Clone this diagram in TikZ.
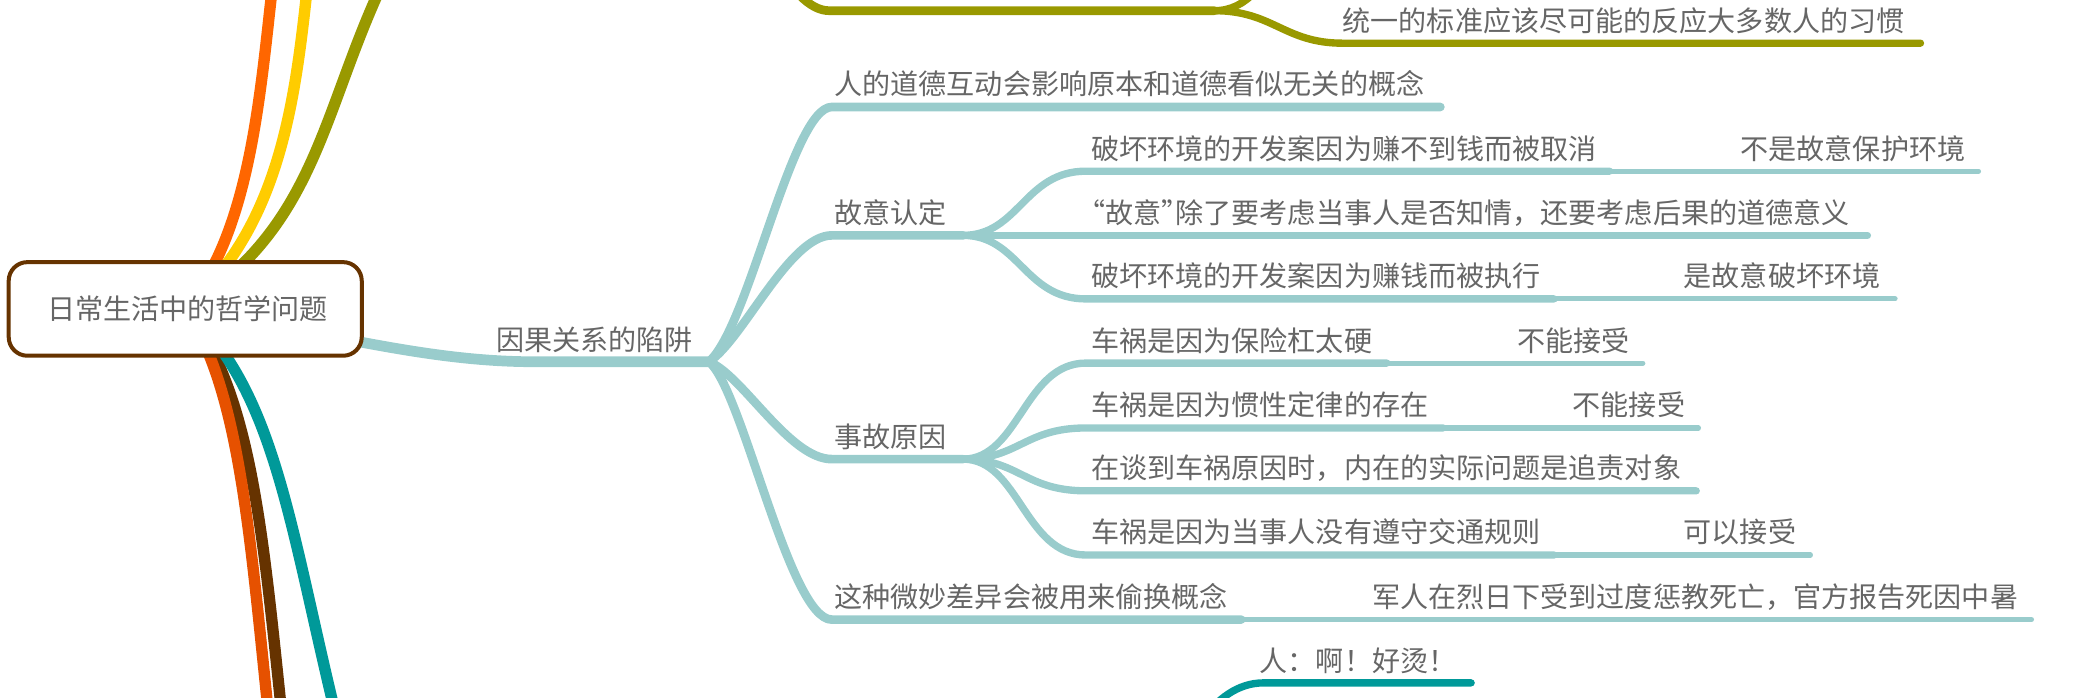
\documentclass[tikz,border=0pt]{standalone}
\usepackage{fontspec}
\newfontfamily\cjk{Noto Sans CJK SC}
\definecolor{cOrange}{HTML}{FF6600}
\definecolor{cYellow}{HTML}{FFCC00}
\definecolor{cOlive}{HTML}{999900}
\definecolor{cRed}{HTML}{E65100}
\definecolor{cBrown}{HTML}{663300}
\definecolor{cTeal}{HTML}{009999}
\definecolor{cLight}{HTML}{99CCCC}
\definecolor{cText}{HTML}{666666}
\tikzset{
  br/.style={line width=#1, line cap=round, line join=round},
  lbl/.style={anchor=base west, inner sep=0pt, outer sep=0pt, text=cText, font=\cjk\fontsize{21}{25}\selectfont},
  rootbox/.style={draw=cBrown, line width=3pt, fill=white, rounded corners=14pt,
    minimum width=264pt, minimum height=70pt, inner sep=0pt, text=cText,
    font=\cjk\fontsize{21}{25}\selectfont, text height=17.6pt, text depth=1.5pt},
}
\begin{document}
\begin{tikzpicture}[x=1pt,y=-1pt]
\useasboundingbox (0,0) rectangle (1568,521.2);

% ---- root branches ----
\coordinate (rc) at (138.5,231);
\coordinate (bOr) at (206,-30);
\coordinate (bYe) at (232,-30);
\coordinate (bOl) at (300,-40);
\coordinate (bRe) at (208,600);
\coordinate (bBr) at (218,600);
\coordinate (bTe) at (268,600);
\draw[br=8.5pt, cOrange] (rc) .. controls (190,170) and (195,60) .. (bOr);
\draw[br=8.5pt, cYellow] (rc) .. controls (215,165) and (222,60) .. (bYe);
\draw[br=8.5pt, cOlive] (rc) .. controls (245,165) and (240,70) .. (bOl);
\draw[br=8.5pt, cBrown] (rc) .. controls (195,300) and (198,430) .. (bBr);
\draw[br=8.5pt, cRed] (rc) .. controls (185,300) and (188,430) .. (bRe);
\draw[br=8.5pt, cTeal] (rc) .. controls (215,300) and (218,420) .. (bTe);

% ---- olive subtree (top, cut) ----
\coordinate (oA) at (540,-90);
\coordinate (oS) at (620,8);
\coordinate (oE) at (908,8);
\draw[br=6.5pt,cOlive] (oA) .. controls (565,-60) and (590,8) .. (oS) -- (oE);
\coordinate (oU) at (1000,-80);
\draw[br=5.5pt,cOlive] (oE) .. controls (958,8) and (962,-80) .. (oU);
\coordinate (oD) at (1004,32.3);
\coordinate (oDe) at (1436,32.3);
\draw[br=5.5pt,cOlive] (oE) .. controls (952,8) and (960,32.3) .. (oD) -- (oDe);
\node[lbl] (o1) at (1004,23.5) {统一的标准应该尽可能的反应大多数人的习惯};

% ---- main light-teal branch ----
\coordinate (m0) at (400,270.5);
\coordinate (h0) at (530,270.5);
\draw[br=8pt, cLight] (rc) .. controls (250,250) and (320,270.5) .. (m0) -- (h0);
\node[lbl] (n0) at (371,262) {因果关系的陷阱};

% level 1
\coordinate (s1) at (622,80);   \coordinate (e1) at (1077,80);
\coordinate (s2) at (622,176);  \coordinate (e2) at (720,176);
\coordinate (s3) at (622,343.3);\coordinate (e3) at (720,343.3);
\coordinate (s4) at (622,463.3);\coordinate (e4) at (928,463.3);
\draw[br=6.5pt,cLight] (h0) .. controls (560,245) and (592,80) .. (s1) -- (e1);
\draw[br=6.5pt,cLight] (h0) .. controls (555,255) and (590,176) .. (s2) -- (e2);
\draw[br=6.5pt,cLight] (h0) .. controls (555,280) and (590,343.3) .. (s3) -- (e3);
\draw[br=6.5pt,cLight] (h0) .. controls (555,290) and (590,463.3) .. (s4) -- (e4);
\node[lbl] (n1) at (624,71) {人的道德互动会影响原本和道德看似无关的概念};
\node[lbl] (n2) at (624,167) {故意认定};
\node[lbl] (n3) at (624,334.3) {事故原因};
\node[lbl] (n4) at (624,454.3) {这种微妙差异会被用来偷换概念};
\coordinate (f4) at (1519,463.3);
\draw[br=3.8pt,cLight] (e4) -- (f4);
\node[lbl] (m4) at (1026,454.3) {军人在烈日下受到过度惩教死亡，官方报告死因中暑};

% level 2 under 故意认定
\coordinate (s21) at (812,128);   \coordinate (e21) at (1203.5,128);
\coordinate (s22) at (812,176);   \coordinate (e22) at (1396.3,176);
\coordinate (s23) at (812,223.5); \coordinate (e23) at (1162,223.5);
\draw[br=5.5pt,cLight] (e2) .. controls (762,176) and (766,128) .. (s21) -- (e21);
\draw[br=5.5pt,cLight] (e2) -- (s22) -- (e22);
\draw[br=5.5pt,cLight] (e2) .. controls (762,176) and (766,223.5) .. (s23) -- (e23);
\node[lbl] (n21) at (816,119) {破坏环境的开发案因为赚不到钱而被取消};
\node[lbl] (n22) at (816,167) {\makebox[10.5pt][r]{“}故意\makebox[10.5pt][l]{”}除了要考虑当事人是否知情，还要考虑后果的道德意义};
\node[lbl] (n23) at (816,214.5) {破坏环境的开发案因为赚钱而被执行};
\coordinate (f21) at (1479.4,128);
\coordinate (f23) at (1417,223.5);
\draw[br=3.8pt,cLight] (e21) -- (f21);
\draw[br=3.8pt,cLight] (e23) -- (f23);
\node[lbl] (m21) at (1301.5,119) {不是故意保护环境};
\node[lbl] (m23) at (1259,214.5) {是故意破坏环境};

% level 2 under 事故原因
\coordinate (s31) at (812,271.5); \coordinate (e31) at (1037,271.5);
\coordinate (s32) at (812,320);   \coordinate (e32) at (1079,320);
\coordinate (s33) at (812,367);   \coordinate (e33) at (1268.3,367);
\coordinate (s34) at (812,415);   \coordinate (e34) at (1162,415);
\draw[br=5.5pt,cLight] (e3) .. controls (762,343.3) and (766,271.5) .. (s31) -- (e31);
\draw[br=5.5pt,cLight] (e3) .. controls (762,343.3) and (766,320) .. (s32) -- (e32);
\draw[br=5.5pt,cLight] (e3) .. controls (762,343.3) and (766,367) .. (s33) -- (e33);
\draw[br=5.5pt,cLight] (e3) .. controls (762,343.3) and (766,415) .. (s34) -- (e34);
\node[lbl] (n31) at (816,262.5) {车祸是因为保险杠太硬};
\node[lbl] (n32) at (816,311) {车祸是因为惯性定律的存在};
\node[lbl] (n33) at (816,358) {在谈到车祸原因时，内在的实际问题是追责对象};
\node[lbl] (n34) at (816,406) {车祸是因为当事人没有遵守交通规则};
\coordinate (f31) at (1228.4,271.5);
\coordinate (f32) at (1270,320);
\coordinate (f34) at (1353.7,415);
\draw[br=3.8pt,cLight] (e31) -- (f31);
\draw[br=3.8pt,cLight] (e32) -- (f32);
\draw[br=3.8pt,cLight] (e34) -- (f34);
\node[lbl] (m31) at (1134.3,262.5) {不能接受};
\node[lbl] (m32) at (1176,311) {不能接受};
\node[lbl] (m34) at (1259,406) {可以接受};

% ---- bottom teal subtree (cut) ----
\coordinate (tA) at (860,600);
\coordinate (tS) at (945,510.6);
\coordinate (tE) at (1100,510.6);
\draw[br=5.5pt,cTeal] (tA) .. controls (885,560) and (905,510.6) .. (tS) -- (tE);
\node[lbl] (t1) at (942,502) {人：啊！好烫！};

% ---- root ----
\node[rootbox] (root) at (rc) {\hspace*{3.5pt}日常生活中的哲学问题};
\end{tikzpicture}
\end{document}
